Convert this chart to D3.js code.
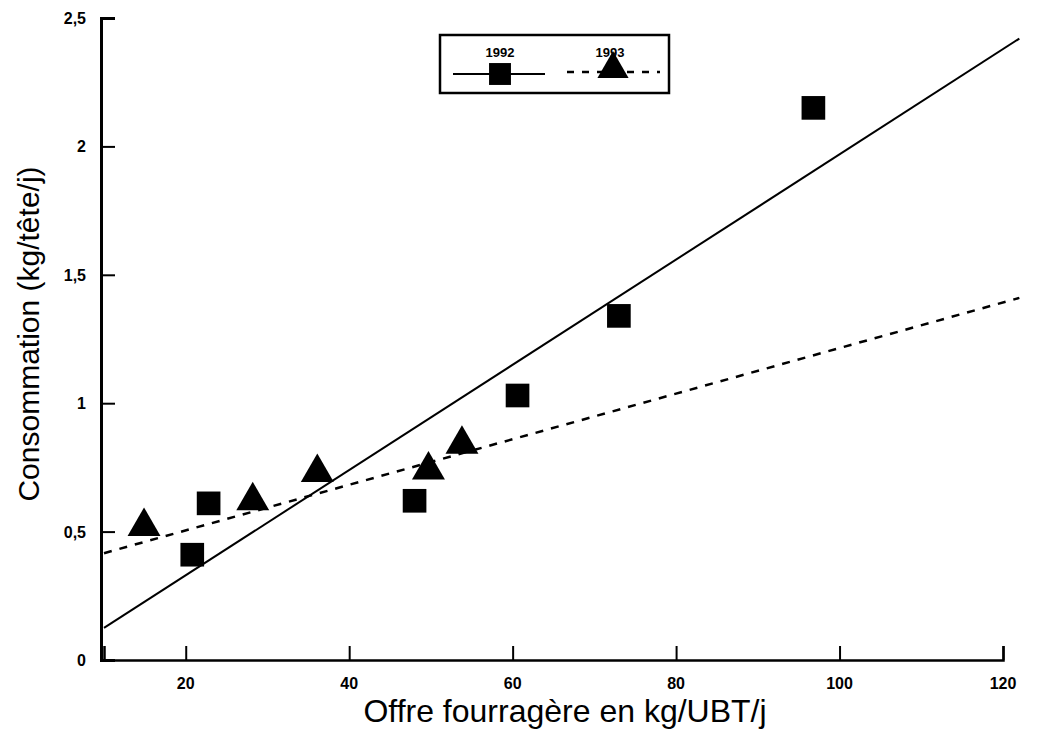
<!DOCTYPE html>
<html><head><meta charset="utf-8">
<script src="https://cdn.jsdelivr.net/npm/d3@7"></script>
<style>body{margin:0;background:#fff}svg{display:block}text{font-family:"Liberation Sans",Arial,sans-serif}</style>
</head><body>
<svg id="c" width="1047" height="734"></svg>
<script>
// Data
const x1992 = [20.8, 22.8, 48.0, 60.6, 73.0, 96.8];
const y1992 = [0.41, 0.61, 0.62, 1.03, 1.34, 2.15];
const x1993 = [14.9, 28.2, 36.1, 49.7, 53.8];
const y1993 = [0.52, 0.62, 0.73, 0.74, 0.84];
const fitX = [10, 122];
const fit1992 = [0.125, 2.42];
const fit1993 = [0.416, 1.41];
const xTicks = [20, 40, 60, 80, 100, 120];
const yTicks = [0, 0.5, 1, 1.5, 2, 2.5];
const yTickLabels = ["0", "0,5", "1", "1,5", "2", "2,5"];
const legendLabels = ["1992", "1993"];

const svg = d3.select("#c");
const x = d3.scaleLinear().domain([10, 120]).range([104, 1003]);
const y = d3.scaleLinear().domain([0, 2.5]).range([660, 18]);

// axes
const gx = svg.append("g").attr("transform", `translate(0,${y(0)})`)
  .call(d3.axisTop(x).tickValues(xTicks).tickSize(14).tickFormat(""));
gx.select(".domain").attr("stroke-width", 2.5);
gx.selectAll(".tick line").attr("stroke-width", 2);
const gy = svg.append("g").attr("transform", `translate(${x(10)-3},0)`)
  .call(d3.axisRight(y).tickValues(yTicks).tickSize(14).tickFormat(""));
gy.select(".domain").attr("stroke-width", 3);
gy.selectAll(".tick line").attr("stroke-width", 2);

// tick labels
svg.append("g").selectAll("text").data(xTicks).join("text")
  .attr("x", d => x(d)).attr("y", 689).attr("text-anchor", "middle")
  .attr("font-size", 16).attr("font-weight", "bold").text(d => d);
svg.append("g").selectAll("text").data(yTicks).join("text")
  .attr("x", 86).attr("y", d => y(d) + 6).attr("text-anchor", "end")
  .attr("font-size", 16).attr("font-weight", "bold").text((d, i) => yTickLabels[i]);

// axis titles
svg.append("text").attr("x", 565).attr("y", 722).attr("text-anchor", "middle")
  .attr("font-size", 32).text("Offre fourragère en kg/UBT/j");
svg.append("text").attr("transform", "translate(39,334) rotate(-90)").attr("text-anchor", "middle")
  .attr("font-size", 30).text("Consommation (kg/tête/j)");

// regression lines
const line = d3.line().x(d => x(d[0])).y(d => y(d[1]));
svg.append("path").datum(fitX.map((v, i) => [v, fit1992[i]])).attr("d", line)
  .attr("fill", "none").attr("stroke", "#000").attr("stroke-width", 2);
svg.append("path").datum(fitX.map((v, i) => [v, fit1993[i]])).attr("d", line)
  .attr("fill", "none").attr("stroke", "#000").attr("stroke-width", 2.5).attr("stroke-dasharray", "8,8");

// points
const sq = d3.symbol().type(d3.symbolSquare).size(560);
const tri = d3.symbol().type(d3.symbolTriangle).size(470);
svg.append("g").selectAll("path").data(x1992).join("path")
  .attr("d", sq).attr("transform", (d, i) => `translate(${x(d)},${y(y1992[i])})`).attr("fill", "#000");
svg.append("g").selectAll("path").data(x1993).join("path")
  .attr("d", tri).attr("transform", (d, i) => `translate(${x(d)},${y(y1993[i])})`).attr("fill", "#000");

// legend
const lg = svg.append("g");
lg.append("rect").attr("x", 440).attr("y", 35).attr("width", 229).attr("height", 58)
  .attr("fill", "#fff").attr("stroke", "#000").attr("stroke-width", 2.5);
lg.append("line").attr("x1", 453).attr("x2", 545).attr("y1", 74).attr("y2", 74).attr("stroke", "#000").attr("stroke-width", 2);
lg.append("line").attr("x1", 567).attr("x2", 660).attr("y1", 72).attr("y2", 72).attr("stroke", "#000").attr("stroke-width", 2.5).attr("stroke-dasharray", "7,8");
lg.append("path").attr("d", d3.symbol().type(d3.symbolSquare).size(480)).attr("transform", "translate(500,74)");
lg.append("path").attr("d", d3.symbol().type(d3.symbolTriangle).size(420)).attr("transform", "translate(613,69)");
lg.selectAll("text.l").data(legendLabels).join("text").attr("class", "l")
  .attr("x", (d, i) => i ? 610 : 500).attr("y", 57).attr("text-anchor", "middle")
  .attr("font-size", 13).attr("font-weight", "bold").text(d => d);
</script>
</body></html>
